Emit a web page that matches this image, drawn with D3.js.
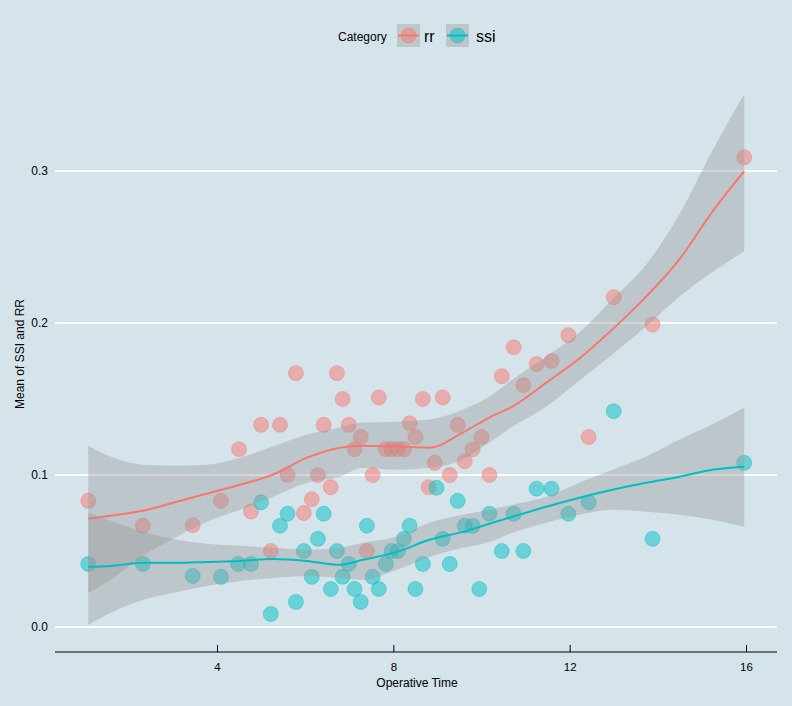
<!DOCTYPE html>
<html>
<head>
<meta charset="utf-8">
<script src="https://cdn.jsdelivr.net/npm/d3@7"></script>
<style>
  html, body { margin: 0; padding: 0; background: #d5e4eb; }
  svg { display: block; }
  text { font-family: "Liberation Sans", Arial, sans-serif; fill: #000; }
</style>
</head>
<body>
<svg id="chart" width="792" height="706"></svg>
<script>
// ---- data ----
const categories = ["rr", "ssi"];
const xTicks = [4, 8, 12, 16];
const yTicks = [0.0, 0.1, 0.2, 0.3];

const rrX = [1.08, 2.32, 3.45, 4.09, 4.5, 4.77, 5.0, 5.22, 5.43, 5.6, 5.79, 5.97, 6.15, 6.29, 6.42, 6.58, 6.72, 6.85, 6.99, 7.12, 7.26, 7.4, 7.53, 7.67, 7.83, 7.96, 8.1, 8.24, 8.37, 8.5, 8.67, 8.8, 8.94, 9.12, 9.28, 9.46, 9.62, 9.8, 10.0, 10.18, 10.46, 10.73, 10.95, 11.25, 11.59, 11.97, 12.43, 13.0, 13.88, 15.96];
const rrY = [0.083, 0.0666, 0.067, 0.083, 0.117, 0.076, 0.133, 0.05, 0.133, 0.1, 0.167, 0.075, 0.084, 0.1, 0.133, 0.092, 0.167, 0.15, 0.133, 0.117, 0.125, 0.05, 0.1, 0.151, 0.117, 0.117, 0.117, 0.117, 0.134, 0.125, 0.15, 0.092, 0.108, 0.151, 0.1, 0.133, 0.109, 0.117, 0.125, 0.1, 0.165, 0.184, 0.159, 0.173, 0.175, 0.192, 0.125, 0.217, 0.199, 0.309];

const ssiX = [1.08, 2.32, 3.45, 4.09, 4.48, 4.77, 5.0, 5.22, 5.43, 5.6, 5.79, 5.97, 6.15, 6.29, 6.42, 6.58, 6.72, 6.85, 6.99, 7.12, 7.26, 7.4, 7.53, 7.67, 7.83, 7.96, 8.1, 8.24, 8.37, 8.5, 8.67, 8.98, 9.12, 9.28, 9.46, 9.62, 9.8, 9.95, 10.18, 10.46, 10.73, 10.95, 11.25, 11.59, 11.97, 12.43, 13.0, 13.88, 15.96];
const ssiY = [0.0415, 0.0415, 0.0336, 0.033, 0.0415, 0.0415, 0.082, 0.0086, 0.0666, 0.0745, 0.0165, 0.05, 0.033, 0.058, 0.0745, 0.025, 0.05, 0.033, 0.0415, 0.025, 0.0165, 0.0666, 0.033, 0.025, 0.0415, 0.05, 0.05, 0.058, 0.0666, 0.025, 0.0415, 0.0916, 0.058, 0.0415, 0.083, 0.0666, 0.0666, 0.025, 0.0745, 0.05, 0.0745, 0.05, 0.091, 0.091, 0.0745, 0.082, 0.142, 0.058, 0.108];

// smoother
const fitX = [1.08, 1.58, 2.32, 3.09, 3.77, 4.52, 5.27, 6.04, 6.79, 7.31, 8.08, 8.82, 9.57, 10.18, 10.70, 11.47, 12.22, 12.97, 13.74, 14.49, 15.23, 15.96];
const rrFit   = [0.0712, 0.0732, 0.0765, 0.0824, 0.0877, 0.0936, 0.1002, 0.1114, 0.1180, 0.1193, 0.1187, 0.1180, 0.1279, 0.1378, 0.1450, 0.1608, 0.1767, 0.1958, 0.2175, 0.2419, 0.2729, 0.2999];
const rrUpper = [0.1193, 0.1121, 0.1068, 0.1061, 0.1068, 0.1114, 0.1187, 0.1266, 0.1312, 0.1345, 0.1351, 0.1365, 0.1430, 0.1516, 0.1628, 0.1780, 0.1938, 0.2156, 0.2386, 0.2716, 0.3130, 0.3507];
const rrLower = [0.0224, 0.0310, 0.0468, 0.0593, 0.0692, 0.0771, 0.0857, 0.0949, 0.0989, 0.1048, 0.1035, 0.1048, 0.1101, 0.1213, 0.1318, 0.1450, 0.1622, 0.1793, 0.1978, 0.2175, 0.2334, 0.2472];
const ssiFit   = [0.0396, 0.0402, 0.0422, 0.0422, 0.0428, 0.0435, 0.0448, 0.0435, 0.0409, 0.0442, 0.0494, 0.0574, 0.0626, 0.0679, 0.0725, 0.0791, 0.0850, 0.0903, 0.0949, 0.0989, 0.1035, 0.1055];
const ssiUpper = [0.0751, 0.0699, 0.0626, 0.0574, 0.0547, 0.0534, 0.0521, 0.0508, 0.0521, 0.0554, 0.0593, 0.0686, 0.0738, 0.0771, 0.0804, 0.0857, 0.0949, 0.1035, 0.1121, 0.1233, 0.1332, 0.1444];
const ssiLower = [0.0013, 0.0092, 0.0178, 0.0231, 0.0270, 0.0303, 0.0323, 0.0336, 0.0323, 0.0310, 0.0376, 0.0461, 0.0521, 0.0560, 0.0620, 0.0686, 0.0738, 0.0771, 0.0758, 0.0738, 0.0705, 0.0659];

// ---- layout ----
const colors = { rr: "#F8766D", ssi: "#00BFC4" };
const ribbonFill = "rgb(153,153,153)";
const panel = { left: 55, right: 777, top: 69, bottom: 652 };

const svg = d3.select("#chart");
svg.append("rect").attr("width", 792).attr("height", 706).attr("fill", "#d5e4eb");

const x = d3.scaleLinear().domain([4, 16]).range([217, 746]);
const y = d3.scaleLinear().domain([0, 0.3]).range([627, 171]);

// gridlines
svg.append("g").selectAll("line").data(yTicks).join("line")
  .attr("x1", panel.left).attr("x2", panel.right)
  .attr("y1", d => y(d)).attr("y2", d => y(d))
  .attr("stroke", "#ffffff").attr("stroke-width", 2);

// y tick labels
svg.append("g").selectAll("text").data(yTicks).join("text")
  .attr("x", 48).attr("y", d => y(d)).attr("dy", "0.35em")
  .attr("text-anchor", "end").attr("font-size", 12)
  .text(d3.format(".1f"));

// x axis
const xAxis = d3.axisBottom(x).tickValues(xTicks).tickSize(-7).tickPadding(11).tickFormat(d3.format("d"));
const gx = svg.append("g").attr("transform", `translate(0,${panel.bottom})`).call(xAxis);
gx.select(".domain").remove();
gx.selectAll(".tick line").attr("stroke", "#000").attr("stroke-width", 1);
gx.selectAll(".tick text").attr("font-size", 11.5).attr("fill", "#000")
  .attr("font-family", "'Liberation Sans', Arial, sans-serif");
svg.append("line").attr("x1", panel.left).attr("x2", panel.right)
  .attr("y1", panel.bottom).attr("y2", panel.bottom)
  .attr("stroke", "#000").attr("stroke-width", 1);

// axis titles
svg.append("text").attr("x", 417).attr("y", 687).attr("text-anchor", "middle")
  .attr("font-size", 12).text("Operative Time");
svg.append("text").attr("transform", "translate(24,354) rotate(-90)")
  .attr("text-anchor", "middle").attr("font-size", 12).text("Mean of SSI and RR");

// points
const series = [
  { key: "rr", xs: rrX, ys: rrY, fit: rrFit, lo: rrLower, hi: rrUpper },
  { key: "ssi", xs: ssiX, ys: ssiY, fit: ssiFit, lo: ssiLower, hi: ssiUpper }
];
const pts = svg.append("g");
series.forEach(s => {
  pts.selectAll(null).data(s.xs.map((v, i) => [v, s.ys[i]])).join("circle")
    .attr("cx", d => x(d[0])).attr("cy", d => y(d[1])).attr("r", 7.5)
    .attr("fill", colors[s.key]).attr("fill-opacity", 0.5)
    .attr("stroke", colors[s.key]).attr("stroke-opacity", 0.4).attr("stroke-width", 1);
});

// smoothers: ribbon then line, per group
const area = d3.area().curve(d3.curveMonotoneX).x(d => x(d.x)).y0(d => y(d.lo)).y1(d => y(d.hi));
const line = d3.line().curve(d3.curveMonotoneX).x(d => x(d.x)).y(d => y(d.y));
series.forEach(s => {
  const ribbon = fitX.map((v, i) => ({ x: v, lo: s.lo[i], hi: s.hi[i] }));
  svg.append("path").datum(ribbon).attr("d", area)
    .attr("fill", ribbonFill).attr("fill-opacity", 0.4);
  const ln = fitX.map((v, i) => ({ x: v, y: s.fit[i] }));
  svg.append("path").datum(ln).attr("d", line)
    .attr("fill", "none").attr("stroke", colors[s.key]).attr("stroke-width", 2);
});

// legend
const lg = svg.append("g");
lg.append("text").attr("x", 338).attr("y", 41).attr("font-size", 12).text("Category");
const legendItems = [
  { key: "rr", bx: 397, tx: 424 },
  { key: "ssi", bx: 446, tx: 476 }
];
legendItems.forEach(it => {
  lg.append("rect").attr("x", it.bx).attr("y", 24).attr("width", 23).attr("height", 23)
    .attr("fill", ribbonFill).attr("fill-opacity", 0.4);
  lg.append("circle").attr("cx", it.bx + 11.5).attr("cy", 35.5).attr("r", 7.5)
    .attr("fill", colors[it.key]).attr("fill-opacity", 0.5)
    .attr("stroke", colors[it.key]).attr("stroke-opacity", 0.4);
  lg.append("line").attr("x1", it.bx + 1).attr("x2", it.bx + 22)
    .attr("y1", 35.5).attr("y2", 35.5)
    .attr("stroke", colors[it.key]).attr("stroke-width", 2);
  lg.append("text").attr("x", it.tx).attr("y", 42).attr("font-size", 16).text(it.key);
});
</script>
</body>
</html>
